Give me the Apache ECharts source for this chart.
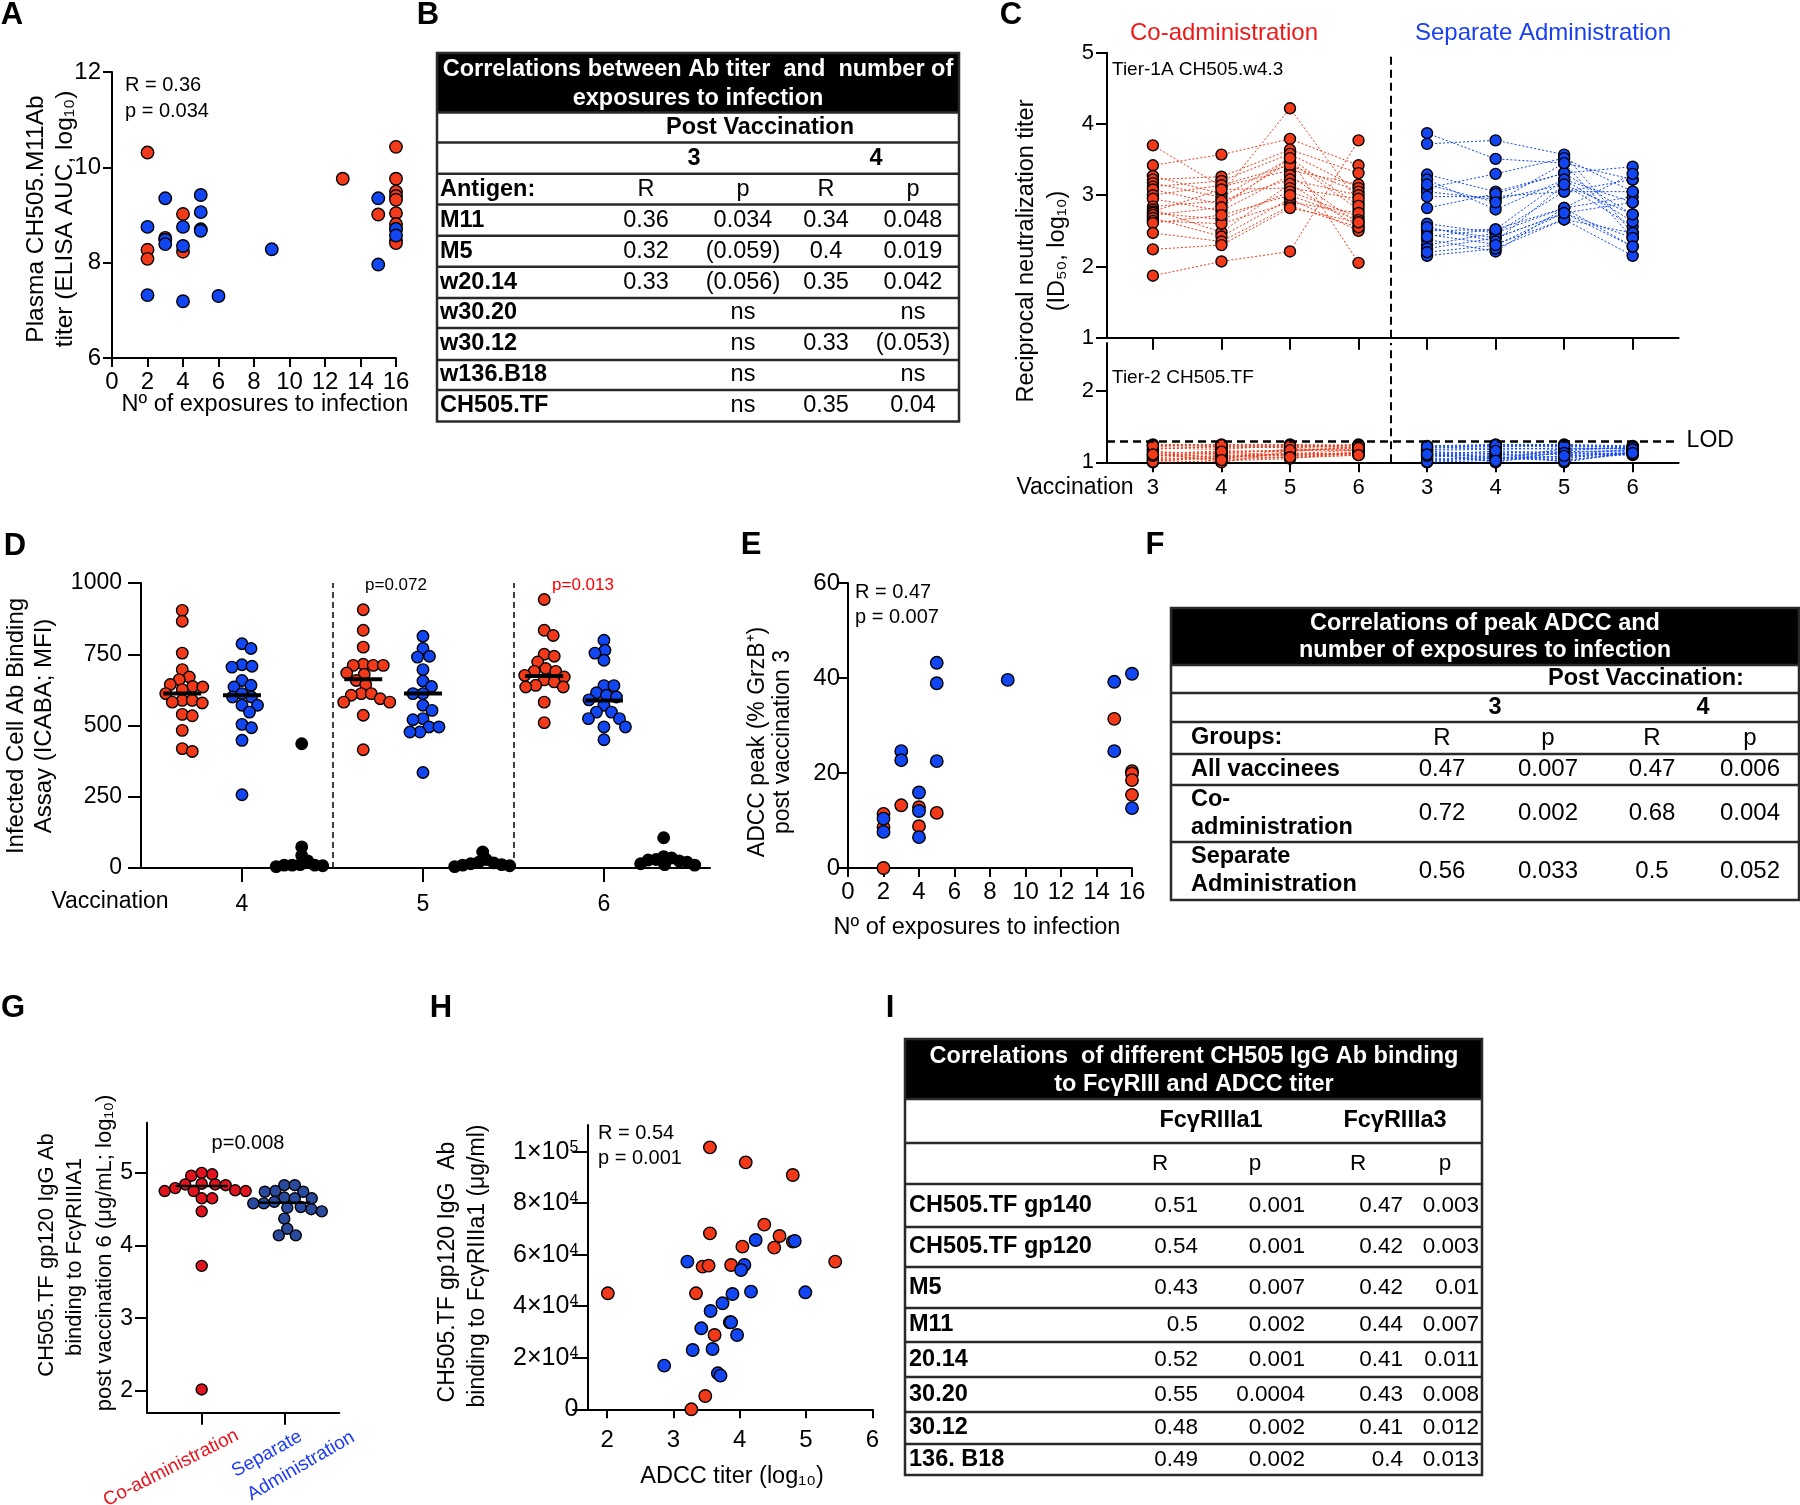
<!DOCTYPE html>
<html><head><meta charset="utf-8">
<script src="https://cdn.jsdelivr.net/npm/echarts@6/dist/echarts.min.js"></script>
<style>html,body{margin:0;padding:0;background:#fff}#c{width:1800px;height:1505px}</style>
</head><body><div id="c"></div>
<script>
// ---------------- DATA ----------------
// Panel A: [exposures, log10 AUC]
const aCo = [[2,10.31],[2,8.27],[2,8.08],[3,8.52],[4,9.02],[4,8.23],[13,9.76],[15,9.01],[16,10.43],[16,9.76],[16,9.49],[16,9.40],[16,9.32],[16,9.04],[16,8.81],[16,8.70],[16,8.47],[16,8.41]];
const aSep = [[2,8.75],[2,7.32],[3,9.35],[3,8.48],[3,8.39],[4,8.75],[4,8.35],[4,7.19],[5,9.42],[5,9.06],[5,8.70],[5,8.67],[6,7.30],[9,8.28],[15,9.35],[15,7.96],[16,8.71],[16,8.57]];
const aStats = ['R = 0.36','p = 0.034'];

// Panel C: per animal, values after vaccination 3,4,5,6
const cVisitLabels = ['3','4','5','6','3','4','5','6'];
const cCoTier1 = [
[3.70,3.12,3.35,3.15],[3.42,3.57,3.79,3.42],[3.27,3.02,4.22,2.90],[3.22,3.26,3.64,3.31],
[3.17,2.97,3.52,2.05],[3.12,3.20,3.58,3.10],[3.08,2.87,3.47,2.80],[3.00,3.14,3.42,3.05],
[2.95,2.78,3.28,2.60],[2.84,2.92,3.22,3.00],[2.80,2.48,3.16,2.55],[2.77,3.08,3.10,2.95],
[2.75,2.66,3.05,2.70],[2.72,2.83,3.52,2.85],[2.68,2.42,2.95,2.50],[2.64,2.60,2.90,2.75],
[2.61,2.72,3.00,2.65],[2.47,2.35,2.85,2.55],[2.24,2.30,2.82,2.62],[1.87,2.07,2.21,3.77]];
const cSepTier1 = [
[3.87,3.51,3.45,3.22],[3.72,3.77,3.57,2.47],[3.29,3.05,3.31,3.40],[3.22,2.80,3.22,2.90],
[3.10,3.30,3.52,3.05],[3.05,2.94,3.15,2.56],[2.98,2.98,3.05,3.22],[2.82,3.02,3.31,2.73],
[2.60,2.47,2.82,2.98],[2.54,2.40,2.75,2.40],[2.50,2.52,3.22,2.63],[2.45,2.31,2.66,2.15],
[2.38,2.21,2.82,2.28],[2.30,2.47,3.05,3.05],[2.25,2.40,2.75,2.90],[2.15,2.25,2.66,2.47],
[3.15,2.90,3.45,2.40],[2.55,2.35,3.15,2.73],[2.42,2.52,2.82,3.30],[2.20,2.30,2.75,2.28]];
const cCoTier2 = [
[1.25,1.25,1.25,1.24],[1.22,1.20,1.22,1.21],[1.18,1.23,1.20,1.25],[1.15,1.12,1.18,1.19],
[1.12,1.16,1.15,1.22],[1.10,1.08,1.12,1.17],[1.08,1.14,1.10,1.14],[1.05,1.05,1.08,1.12],
[1.03,1.10,1.06,1.10],[1.00,1.02,1.05,1.15],[1.20,1.18,1.24,1.20],[1.02,1.06,1.13,1.11],
[1.14,1.00,1.16,1.18],[1.24,1.22,1.21,1.23],[1.06,1.12,1.09,1.13],[1.16,1.04,1.19,1.16],
[1.01,1.08,1.11,1.12],[1.23,1.24,1.23,1.24],[1.09,1.15,1.17,1.20],[1.11,1.03,1.07,1.10]];
const cSepTier2 = [
[1.23,1.25,1.25,1.23],[1.20,1.22,1.22,1.21],[1.17,1.18,1.20,1.19],[1.15,1.12,1.16,1.22],
[1.12,1.15,1.10,1.18],[1.10,1.08,1.05,1.17],[1.08,1.13,1.00,1.15],[1.05,1.05,1.08,1.14],
[1.02,1.10,1.12,1.12],[1.00,1.03,1.14,1.10],[1.18,1.20,1.18,1.20],[1.03,1.07,1.03,1.13],
[1.13,1.00,1.15,1.16],[1.21,1.23,1.24,1.22],[1.07,1.11,1.07,1.11],[1.16,1.04,1.19,1.19],
[1.01,1.06,1.02,1.12],[1.22,1.24,1.23,1.21],[1.09,1.16,1.13,1.18],[1.11,1.02,1.09,1.13]];
const cLOD = 1.3;

// Panel D: ICABA MFI per vaccination (4,5,6)
const dVisits = [4,5,6];
const dCo = [
 [904,866,754,696,670,661,644,637,635,626,612,588,582,579,588,534,539,483,409,419],
 [906,834,775,711,715,711,711,684,680,658,644,612,606,612,582,594,536,415,582],
 [942,816,834,743,750,723,700,670,676,653,635,641,635,690,582,510,690,660]];
const dSep = [
 [770,787,705,713,708,658,635,641,612,600,547,571,571,492,504,448,257,600],
 [813,770,740,743,696,656,637,612,571,553,520,524,477,495,477,495,335,612],
 [799,764,754,729,640,640,615,606,571,547,547,524,524,495,495,450,590,600]];
const dCtl = [
 [436,74,44,10,10,12,8,10,5,25],
 [56,30,20,15,10,8,5,12,18],
 [106,40,35,30,25,20,15,10,12,28]];
const dCoMeans = [612,662,674];
const dSepMeans = [606,612,588];
const dPvals = ['', 'p=0.072', 'p=0.013'];

// Panel E
const eCo = [[2,0],[2,11.4],[2,8.6],[3,13.2],[4,12.8],[4,8.8],[5,11.6],[15,31.4],[16,20.4],[16,19.9],[16,18.5],[16,15.4]];
const eSep = [[2,10.4],[2,7.6],[3,24.6],[3,22.7],[4,15.9],[4,12.0],[4,6.5],[5,43.2],[5,38.9],[5,22.5],[9,39.6],[15,39.2],[15,24.6],[16,40.9],[16,12.6]];
const eStats = ['R = 0.47','p = 0.007'];

// Panel G
const gCo = [4.98,5.0,4.96,4.84,4.85,4.83,4.84,4.75,4.76,4.79,4.75,4.75,4.65,4.65,4.47,3.72,2.02];
const gSep = [4.83,4.83,4.74,4.74,4.75,4.65,4.65,4.66,4.60,4.53,4.58,4.52,4.58,4.47,4.50,4.37,4.23,4.14,4.14];
const gMeans = [4.82,4.59];
const gP = 'p=0.008';

// Panel H: [ADCC titer log10, binding]
const hCo = [[2.01,45020],[3.55,101680],[4.09,95860],[4.80,90950],[4.37,71670],[3.55,68300],[4.60,67270],[4.80,65070],[4.04,63130],[4.52,62740],[5.44,57310],[3.44,55370],[3.53,55760],[3.87,56020],[3.34,45020],[3.62,28850],[3.48,5170],[3.27,0]];
const hSep = [[3.21,57310],[4.24,65720],[4.83,65330],[4.07,56020],[4.02,54070],[4.17,45670],[4.99,45410],[3.89,44760],[3.74,41140],[3.56,38160],[3.85,33760],[3.87,33760],[3.42,31440],[3.96,28850],[3.29,23030],[3.59,23420],[2.86,16950],[3.67,13970],[3.71,13070]];
const hStats = ['R = 0.54','p = 0.001'];

// Table B
const bAntigen = ['M11','M5','w20.14','w30.20','w30.12','w136.B18','CH505.TF'];
const bR3 = ['0.36','0.32','0.33','','','',''];
const bP3 = ['0.034','(0.059)','(0.056)','ns','ns','ns','ns'];
const bR4 = ['0.34','0.4','0.35','','0.33','','0.35'];
const bP4 = ['0.048','0.019','0.042','ns','(0.053)','ns','0.04'];
// Table F
const fGroups = ['All vaccinees','Co-\nadministration','Separate\nAdministration'];
const fR3 = ['0.47','0.72','0.56'];
const fP3 = ['0.007','0.002','0.033'];
const fR4 = ['0.47','0.68','0.5'];
const fP4 = ['0.006','0.004','0.052'];
// Table I
const iAntigen = ['CH505.TF gp140','CH505.TF gp120','M5','M11','20.14','30.20','30.12','136. B18'];
const iR1 = ['0.51','0.54','0.43','0.5','0.52','0.55','0.48','0.49'];
const iP1 = ['0.001','0.001','0.007','0.002','0.001','0.0004','0.002','0.002'];
const iR3 = ['0.47','0.42','0.42','0.44','0.41','0.43','0.41','0.4'];
const iP3 = ['0.003','0.003','0.01','0.007','0.011','0.008','0.012','0.013'];

// ---------------- STYLE / BUILD ----------------
const RED='#F23A1A', BLUE='#1246F2', GRED='#E0141E', GBLUE='#2A4A9E';
const FF='"Liberation Sans", Arial, Helvetica, sans-serif';
const DEG = Math.PI/180;

function ax(gi, min, max, o){
  o = o || {};
  const a = {
    type:'value', gridIndex:gi, min:min, max:max,
    splitLine:{show:false},
    axisLine:{show:true, onZero:false, lineStyle:{color:'#000', width:2}},
    axisTick:{show:true, length:o.tickLen||9, lineStyle:{color:'#000', width:2}},
    axisLabel:{show:o.label!==false, margin:o.margin||10, fontSize:o.fs||23, fontFamily:FF, color:'#000', hideOverlap:false,
      formatter: o.fmt || (v=>String(v))}
  };
  if (o.interval) a.interval = o.interval;
  if (o.ticks) { a.axisTick.customValues = o.ticks; a.axisLabel.customValues = o.ticks; }
  if (o.rich) a.axisLabel.rich = o.rich;
  return a;
}

function T(x, y, text, o){
  o = o || {};
  const st = {text:text, fill:o.color||'#000', fontSize:o.fs||22, fontFamily:FF,
    fontWeight:o.bold?'bold':'normal', align:o.align||'center', verticalAlign:o.va||'middle'};
  if (o.lh) st.lineHeight = o.lh;
  return {type:'text', x:x, y:y, rotation:(o.rot||0)*DEG, silent:true, z:100, style:st};
}

function swarm(values, center, pxX, pxY, diam){
  const idx = values.map((v,i)=>i).sort((a,b)=>values[b]-values[a]);
  const placed = [], res = [];
  idx.forEach(i=>{
    const y = values[i]*pxY;
    let off = 0;
    for (let k=0;k<600;k++){
      const cand = (k%2 ? 1 : -1) * Math.ceil(k/2) * 0.5;
      if (placed.every(p => (p[0]-cand)*(p[0]-cand) + (p[1]-y)*(p[1]-y) >= diam*diam)) { off = cand; break; }
    }
    placed.push([off,y]);
    res.push([center + off/pxX, values[i]]);
  });
  return res;
}

const grids = [
  {left:112, top:72, width:284, height:286},        // A
  {left:1107, top:52.7, width:571.6, height:285},   // C upper
  {left:1107, top:343, width:571.6, height:119.3},  // C lower
  {left:141, top:583, width:569, height:285},       // D
  {left:848, top:583, width:284, height:285},       // E
  {left:147, top:1122.7, width:192.3, height:290},  // G
  {left:587.3, top:1125, width:285, height:284.3}   // H
];
const cCats = [1,2,3,4,5,6,7,8];
const xAxes = [
  ax(0, 0, 16, {interval:2, margin:12, fs:24}),
  ax(1, 0.33, 8.67, {ticks:cCats, label:false, tickLen:12}),
  ax(2, 0.33, 8.67, {ticks:cCats, tickLen:10, margin:15, fs:22, fmt:v=>cVisitLabels[Math.round(v)-1]}),
  ax(3, 3.442, 6.586, {ticks:dVisits, tickLen:14, margin:25, fs:23}),
  ax(4, 0, 16, {interval:2, margin:12, fs:24}),
  ax(5, 0.338, 2.666, {ticks:[1,2], label:false, tickLen:12}),
  ax(6, 1.7, 6, {ticks:[2,3,4,5,6], margin:19, fs:24})
];
const yAxes = [
  ax(0, 6, 12, {interval:2, margin:11, fs:24}),
  ax(1, 1, 5, {interval:1, margin:13, fs:22, tickLen:11}),
  ax(2, 1, 2.67, {ticks:[1,2], margin:13, fs:22, tickLen:11}),
  ax(3, 0, 1000, {interval:250, margin:19, tickLen:13, fs:23}),
  ax(4, 0, 60, {interval:20, margin:8, tickLen:10, fs:24}),
  ax(5, 1.7, 5.69, {ticks:[2,3,4,5], margin:14, tickLen:12, fs:23}),
  ax(6, 0, 110350, {ticks:[0,20000,40000,60000,80000,100000], margin:9, tickLen:15, fs:25,
     fmt:v=> v===0 ? '0' : (v>=100000 ? '1×10{s|5}' : (v/10000)+'×10{s|4}'),
     rich:{s:{fontSize:16, fontFamily:FF, color:'#000', verticalAlign:'top', padding:[0,0,9,0]}}})
];

const series = [];
function pts(xi, yi, data, color, size, extra){
  const s = {type:'scatter', xAxisIndex:xi, yAxisIndex:yi, data:data, symbolSize:size,
    itemStyle:{color:color, opacity:1, borderColor:'#000', borderWidth:1.4}, z:3, silent:true, animation:false};
  return Object.assign(s, extra||{});
}
function lines(rows, xBase, xi, yi, color){
  rows.forEach(r=>series.push({type:'line', xAxisIndex:xi, yAxisIndex:yi, data:r.map((v,j)=>[xBase+j,v]),
    symbol:'none', lineStyle:{color:color, width:1, type:[2,2]}, z:2, silent:true, animation:false}));
}
function flat(rows, xBase){ return rows.flatMap(r=>r.map((v,j)=>[xBase+j,v])); }

// A
series.push(pts(0,0,aCo,RED,12.5));
series.push(pts(0,0,aSep,BLUE,12.5));
// C
lines(cCoTier1,1,1,1,RED); lines(cSepTier1,5,1,1,BLUE);
lines(cCoTier2,1,2,2,RED); lines(cSepTier2,5,2,2,BLUE);
const vline = {silent:true, symbol:['none','none'], label:{show:false}, lineStyle:{color:'#000', width:2, type:[8,5]}};
series.push(pts(1,1,flat(cCoTier1,1),RED,11,{markLine:Object.assign({data:[{xAxis:4.47}]},vline)}));
series.push(pts(1,1,flat(cSepTier1,5),BLUE,11));
series.push(pts(2,2,flat(cCoTier2,1),RED,11,{markLine:Object.assign({data:[{xAxis:4.47}]},vline)}));
series.push(pts(2,2,flat(cSepTier2,5),BLUE,11,{markLine:{silent:true, symbol:['none','none'],
  lineStyle:{color:'#000', width:2.5, type:[8,5]},
  label:{show:true, position:'end', formatter:'LOD', color:'#000', fontSize:23, fontFamily:FF, distance:8},
  data:[{yAxis:cLOD}]}}));
// D
dVisits.forEach((v,g)=>{
  series.push(pts(3,3,swarm(dCo[g], v-0.33, 181, 0.285, 10),RED,11.5,
    g===0?{markLine:{silent:true, symbol:['none','none'], label:{show:false}, lineStyle:{color:'#000', width:1.5, type:[6,4]}, data:[{xAxis:4.5},{xAxis:5.5}]}}:{}));
  series.push(pts(3,3,swarm(dSep[g], v, 181, 0.285, 10),BLUE,11.5));
  series.push(pts(3,3,swarm(dCtl[g], v+0.33, 181, 0.285, 8),'#000',11.5));
});
series.push({type:'scatter', xAxisIndex:3, yAxisIndex:3, symbol:'rect', symbolSize:[38,4], z:6, silent:true, animation:false,
  itemStyle:{color:'#000', opacity:1}, data:dVisits.map((v,g)=>[v-0.33,dCoMeans[g]]).concat(dVisits.map((v,g)=>[v,dSepMeans[g]]))});
// E
series.push(pts(4,4,eCo,RED,12.5));
series.push(pts(4,4,eSep,BLUE,12.5));
// G
series.push(pts(5,5,swarm(gCo,1,82.6,72.8,10.5),GRED,11));
series.push(pts(5,5,swarm(gSep,2,82.6,72.8,10.5),GBLUE,11));
series.push({type:'scatter', xAxisIndex:5, yAxisIndex:5, symbol:'rect', symbolSize:[52,2.5], z:6, silent:true, animation:false,
  itemStyle:{color:'#000', opacity:1}, data:gMeans.map((m,i)=>[i+1,m])});
// H
series.push(pts(6,6,hCo,RED,12.5));
series.push(pts(6,6,hSep,BLUE,12.5));

// ---------------- GRAPHICS (titles, tables) ----------------
const G = [];
[['A',12,15],['B',428,15],['C',1011,15],['D',15,546],['E',751,545],['F',1155,545],['G',13,1008],['H',441,1008],['I',890,1008]]
  .forEach(l=>G.push(T(l[1],l[2],l[0],{bold:true, fs:31})));
// A
G.push(T(36,219,'Plasma CH505.M11Ab',{rot:90, fs:24.5}));
G.push(T(65,219,'titer (ELISA AUC, log₁₀)',{rot:90, fs:24.5}));
G.push(T(265,405,'Nº of exposures to infection',{fs:23.5}));
G.push(T(125,85,aStats[0],{align:'left', fs:20}));
G.push(T(125,111,aStats[1],{align:'left', fs:20}));
// C
G.push(T(1224,33,'Co-administration',{fs:24, color:'#F01818'}));
G.push(T(1543,33,'Separate Administration',{fs:24, color:'#1A40F0'}));
G.push(T(1027,251,'Reciprocal neutralization titer',{rot:90, fs:23.5}));
G.push(T(1058,251,'(ID₅₀, log₁₀)',{rot:90, fs:23.5}));
G.push(T(1112,70,'Tier-1A CH505.w4.3',{align:'left', fs:19}));
G.push(T(1112,378,'Tier-2 CH505.TF',{align:'left', fs:19}));
G.push(T(1075,488,'Vaccination',{fs:23}));
// D
G.push(T(16,726,'Infected Cell Ab Binding',{rot:90, fs:24}));
G.push(T(44,726,'Assay (ICABA; MFI)',{rot:90, fs:24}));
G.push(T(110,902,'Vaccination',{fs:23}));
G.push(T(396,585,dPvals[1],{fs:17}));
G.push(T(583,585,dPvals[2],{fs:17, color:'#F00'}));
// E
G.push(T(758,742,'ADCC peak (% GrzB⁺)',{rot:90, fs:23}));
G.push(T(783,742,'post vaccination 3',{rot:90, fs:23}));
G.push(T(977,928,'Nº of exposures to infection',{fs:23.5}));
G.push(T(855,592,eStats[0],{align:'left', fs:20}));
G.push(T(855,617,eStats[1],{align:'left', fs:20}));
// G
G.push(T(47,1255,'CH505.TF gp120 IgG Ab',{rot:90, fs:22}));
G.push(T(75,1257,'binding to FcγRIIIA1',{rot:90, fs:22}));
G.push(T(105,1253,'post vaccination 6 (μg/mL; log₁₀)',{rot:90, fs:22}));
G.push(T(248,1143,gP,{fs:20}));
G.push(T(171,1468,'Co-administration',{rot:27, fs:19, color:'#E8141E'}));
G.push(T(267,1454,'Separate',{rot:29, fs:19, color:'#1E3CF0'}));
G.push(T(301,1466,'Administration',{rot:30, fs:19, color:'#1E3CF0'}));
// H
G.push(T(448,1272,'CH505.TF gp120 IgG  Ab',{rot:90, fs:23}));
G.push(T(478,1266,'binding to FcγRIIIa1 (μg/ml)',{rot:90, fs:23}));
G.push(T(732,1477,'ADCC titer (log₁₀)',{fs:23.5}));
G.push(T(598,1133,hStats[0],{align:'left', fs:20}));
G.push(T(598,1158,hStats[1],{align:'left', fs:20}));

function frame(x0,x1,ys){
  G.push({type:'rect', shape:{x:x0,y:ys[0],width:x1-x0,height:ys[1]-ys[0]}, style:{fill:'#000'}, silent:true, z:50});
  for (let i=1;i<ys.length-1;i++) G.push({type:'line', shape:{x1:x0,y1:ys[i],x2:x1,y2:ys[i]}, style:{stroke:'#2a2a2a', lineWidth:2.5}, silent:true, z:51});
  G.push({type:'rect', shape:{x:x0,y:ys[0],width:x1-x0,height:ys[ys.length-1]-ys[0]}, style:{fill:'none', stroke:'#2a2a2a', lineWidth:2.5}, silent:true, z:51});
}
const mid = (ys,i)=>(ys[i]+ys[i+1])/2;

// Table B
(function(){
  const ys=[53,112.4,142.6,173.8,204.6,235.8,266.7,297.9,328,359.9,390.1,421.5];
  frame(437,959,ys);
  G.push(T(698,70,'Correlations between Ab titer  and  number of',{bold:true, color:'#fff', fs:23.5}));
  G.push(T(698,99,'exposures to infection',{bold:true, color:'#fff', fs:23.5}));
  G.push(T(760,mid(ys,1),'Post Vaccination',{bold:true, fs:23.5}));
  G.push(T(694,mid(ys,2),'3',{bold:true, fs:23.5}));
  G.push(T(876,mid(ys,2),'4',{bold:true, fs:23.5}));
  const cols=[646,743,826,913];
  G.push(T(440,mid(ys,3),'Antigen:',{bold:true, align:'left', fs:23.5}));
  ['R','p','R','p'].forEach((h,j)=>G.push(T(cols[j],mid(ys,3),h,{fs:23.5})));
  bAntigen.forEach((a,i)=>{
    const y=mid(ys,4+i);
    G.push(T(440,y,a,{bold:true, align:'left', fs:23.5}));
    [bR3[i],bP3[i],bR4[i],bP4[i]].forEach((v,j)=>{ if(v) G.push(T(cols[j],y,v,{fs:23.5})); });
  });
})();
// Table F
(function(){
  const ys=[608,665,693,722,754,785,842,900];
  frame(1171,1799,ys);
  G.push(T(1485,624,'Correlations of peak ADCC and',{bold:true, color:'#fff', fs:23.5}));
  G.push(T(1485,651,'number of exposures to infection',{bold:true, color:'#fff', fs:23.5}));
  G.push(T(1646,mid(ys,1),'Post Vaccination:',{bold:true, fs:23.5}));
  G.push(T(1495,mid(ys,2),'3',{bold:true, fs:23.5}));
  G.push(T(1703,mid(ys,2),'4',{bold:true, fs:23.5}));
  const cols=[1442,1548,1652,1750];
  G.push(T(1191,mid(ys,3),'Groups:',{bold:true, align:'left', fs:23.5}));
  ['R','p','R','p'].forEach((h,j)=>G.push(T(cols[j],mid(ys,3),h,{fs:24})));
  fGroups.forEach((g,i)=>{
    const y=mid(ys,4+i);
    G.push(T(1191,y,g,{bold:true, align:'left', fs:23.5, lh:28}));
    [fR3[i],fP3[i],fR4[i],fP4[i]].forEach((v,j)=>G.push(T(cols[j],y,v,{fs:24})));
  });
})();
// Table I
(function(){
  const ys=[1039,1099,1143,1184,1227,1267,1308,1342,1377,1412,1444,1475];
  frame(905,1482,ys);
  G.push(T(1194,1057,'Correlations  of different CH505 IgG Ab binding',{bold:true, color:'#fff', fs:23.5}));
  G.push(T(1194,1085,'to FcγRIII and ADCC titer',{bold:true, color:'#fff', fs:23.5}));
  G.push(T(1211,mid(ys,1),'FcγRIIIa1',{bold:true, fs:23.5}));
  G.push(T(1395,mid(ys,1),'FcγRIIIa3',{bold:true, fs:23.5}));
  [[1160,'R'],[1255,'p'],[1358,'R'],[1445,'p']].forEach(h=>G.push(T(h[0],mid(ys,2),h[1],{fs:22.5})));
  const rc=[1198,1305,1403,1479];
  iAntigen.forEach((a,i)=>{
    const y=mid(ys,3+i);
    G.push(T(909,y,a,{bold:true, align:'left', fs:23.5}));
    [iR1[i],iP1[i],iR3[i],iP3[i]].forEach((v,j)=>G.push(T(rc[j],y,v,{align:'right', fs:22.5})));
  });
})();

const chart = echarts.init(document.getElementById('c'), null, {renderer:'canvas'});
chart.setOption({
  animation:false, backgroundColor:'#fff',
  grid:grids, xAxis:xAxes, yAxis:yAxes, series:series, graphic:G
});
</script></body></html>
